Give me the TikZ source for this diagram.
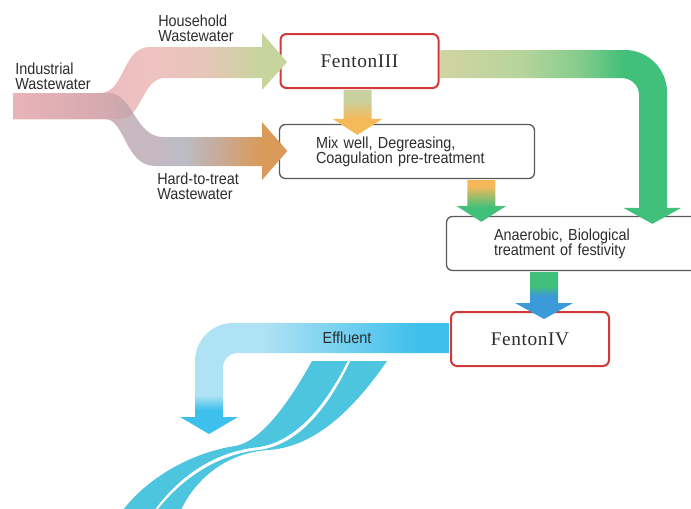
\documentclass[tikz,border=0pt]{standalone}
\usepackage{fontspec}
\setmainfont{Liberation Sans}[FakeStretch=0.9]
\newfontfamily\fentonfont{Liberation Serif}[LetterSpace=3]
\usetikzlibrary{calc}
\definecolor{fentonred}{RGB}{210,58,58}
\definecolor{boxgray}{RGB}{90,90,90}
\definecolor{labelgray}{RGB}{45,45,45}
\definecolor{flowgreen}{RGB}{64,192,122}
\definecolor{floworange}{RGB}{245,185,90}
\definecolor{flowblue}{RGB}{60,154,216}
\definecolor{flowolive}{RGB}{200,208,160}
\definecolor{effluentblue}{RGB}{62,192,236}
\definecolor{effluentpale}{RGB}{176,226,245}
\definecolor{riverblue}{RGB}{78,197,223}
% stream colours
\definecolor{inpink}{RGB}{230,178,182}
\definecolor{hhpink}{RGB}{239,194,194}
\definecolor{hhbeige}{RGB}{230,198,184}
\definecolor{hhgreen}{RGB}{200,212,158}
\definecolor{htpink}{RGB}{224,178,184}
\definecolor{htmauve}{RGB}{198,184,192}
\definecolor{htgray}{RGB}{188,188,198}
\definecolor{httan}{RGB}{198,172,156}
\definecolor{htorange}{RGB}{217,154,90}
\definecolor{mixpink}{RGB}{232,180,184}
\definecolor{mixrose}{RGB}{214,170,176}
\definecolor{mixmauve}{RGB}{196,166,174}
\definecolor{turnolive}{RGB}{210,212,162}
\definecolor{turnsage}{RGB}{182,212,156}
\definecolor{turnmint}{RGB}{132,204,140}

% horizontal shadings: 25bp = left end of the path, 75bp = right end
\pgfdeclarehorizontalshading{householdflow}{100bp}{color(0bp)=(inpink); color(25bp)=(inpink); color(50bp)=(hhpink); color(60bp)=(hhbeige); color(70bp)=(hhgreen); color(100bp)=(hhgreen)}
\pgfdeclarehorizontalshading{hardflow}{100bp}{color(0bp)=(htpink); color(25bp)=(htpink); color(50bp)=(htmauve); color(56bp)=(htgray); color(62bp)=(httan); color(70bp)=(htorange); color(100bp)=(htorange)}
\pgfdeclarehorizontalshading{mixedflow}{100bp}{color(0bp)=(mixpink); color(25bp)=(mixpink); color(41bp)=(mixrose); color(48bp)=(mixmauve); color(100bp)=(mixmauve)}
\pgfdeclarehorizontalshading{greenturn}{100bp}{color(0bp)=(turnolive); color(25bp)=(turnolive); color(42bp)=(turnsage); color(54bp)=(turnmint); color(63bp)=(flowgreen); color(100bp)=(flowgreen)}
\pgfdeclarehorizontalshading{effluentflat}{100bp}{color(0bp)=(effluentpale); color(38bp)=(effluentpale); color(69bp)=(effluentblue); color(100bp)=(effluentblue)}
% vertical shadings: 25bp = bottom of the path, 75bp = top
\pgfdeclareverticalshading{effluentdrop}{100bp}{color(0bp)=(effluentblue); color(44bp)=(effluentblue); color(56bp)=(effluentpale); color(100bp)=(effluentpale)}
\pgfdeclareverticalshading{oliveorange}{100bp}{color(0bp)=(floworange); color(43bp)=(floworange); color(64bp)=(flowolive); color(100bp)=(flowolive)}
\pgfdeclareverticalshading{orangegreen}{100bp}{color(0bp)=(flowgreen); color(42bp)=(flowgreen); color(68bp)=(floworange); color(100bp)=(floworange)}
\pgfdeclareverticalshading{greenblue}{100bp}{color(0bp)=(flowblue); color(50bp)=(flowblue); color(60bp)=(flowgreen); color(100bp)=(flowgreen)}

% fat downward arrow: shading, node anchor it leaves, tip coordinate, half width of head
\newcommand\fatdown[4]{\shade[shading=#1] ($(#3 |- #2)+(-14,1)$) -- ($(#3)+(-14,-16)$) -- ($(#3)+(-#4,-16)$) -- (#3) -- ($(#3)+(#4,-16)$) -- ($(#3)+(14,-16)$) -- ($(#3 |- #2)+(14,1)$) -- cycle;}

\tikzset{
  fentonbox/.style={draw=fentonred, line width=1.5pt, rounded corners=4.5pt, fill=white, minimum width=118.5pt, minimum height=40.5pt, text=labelgray, font=\fontsize{14.5}{16}\selectfont\fentonfont},
  stagebox/.style={draw=boxgray, line width=1pt, rounded corners=4.5pt, fill=white, minimum height=40.5pt, align=left, text=labelgray, font=\fontsize{12}{11.3}\selectfont},
  flowlabel/.style={align=left, inner sep=0pt, anchor=north west, text=labelgray, font=\fontsize{12}{11.3}\selectfont}
}

\begin{document}
\begin{tikzpicture}[x=0.75pt, y=-0.75pt]
\useasboundingbox (0,0) rectangle (691,508);

% treatment boxes
\node[fentonbox] (f3) at (359.5,61) {FentonIII};
\node[stagebox, minimum width=191.25pt, text width=136.5pt] (mix) at (407,151.5) {Mix well, Degreasing,\\Coagulation pre-treatment};
\node[stagebox, minimum width=195pt, text width=123.75pt] (ana) at (576.5,243.5) {Anaerobic, Biological\\treatment of festivity};
\node[fentonbox] (f4) at (530,339) {FentonIV};

% incoming wastewater streams
\coordinate (hhtip) at ($(f3.west)+(7.5,1)$);
\coordinate (httip) at ($(mix.west)+(8.5,-0.5)$);
\def\householdpath{(13,93) -- (100,93) .. controls (125,93) and (122,47) .. (150,47) -- (262,47) -- (262,33) -- (hhtip) -- (262,90) -- (262,78) -- (165,78) .. controls (142,78) and (142,119) .. (120,119) -- (13,119) -- cycle}
\def\hardpath{(13,93) -- (108,93) .. controls (133,93) and (135,137) .. (163,137) -- (262,137) -- (262,122) -- (httip) -- (262,180) -- (262,166) -- (155,166) .. controls (125,166) and (125,119) .. (105,119) -- (13,119) -- cycle}
\shade[shading=householdflow] \householdpath;
\shade[shading=hardflow] \hardpath;
\begin{scope}
  \clip \householdpath;
  \shade[shading=mixedflow] \hardpath;
\end{scope}

% arrows between the stages
\coordinate (t1) at ($(mix.north)+(-49.5,11)$);
\coordinate (t2) at ($(ana.north west)+(35.5,6)$);
\coordinate (t3) at ($(f4.north)+(14,8)$);
\coordinate (t4) at ($(ana.north west)+(206.5,8)$);
\fatdown{oliveorange}{f3.south}{t1}{25}
\fatdown{orangegreen}{mix.south}{t2}{25}
\fatdown{greenblue}{ana.south}{t3}{29}
\shade[shading=greenturn] ($(f3.east)+(1,-11)$) -- (625,50) .. controls (648,50) and (667,69) .. (667,92) -- (667,208) -- ($(t4)+(29,-16)$) -- (t4) -- ($(t4)+(-29,-16)$) -- (639,208) -- (639,95) .. controls (639,85) and (631,78) .. (621,78) -- ($(f3.east)+(1,17)$) -- cycle;

% effluent
\coordinate (outfall) at (209,434);
\shade[shading=effluentflat] ($(f4.west)+(-1,-16)$) -- (233,323) .. controls (212,323) and (195,340) .. (195,361) -- (195,372) -- (223,372) -- (223,368) .. controls (223,360) and (229,353) .. (238,353) -- ($(f4.west)+(-1,14)$) -- cycle;
\shade[shading=effluentdrop] (195,371) -- (195,417) -- (180,417) -- (outfall) -- (238,417) -- (223,417) -- (223,371) -- cycle;

% river
\fill[riverblue] (312,361) .. controls (296,390) and (265,441) .. (235,446) .. controls (195,452) and (150,475) .. (123,510) -- (154.7,510) .. controls (178.7,476.7) and (213.7,452.7) .. (253.7,447.7) .. controls (298.7,443.7) and (328.7,398.7) .. (347.7,361) -- cycle;
\fill[riverblue] (350.3,361) .. controls (331.3,401.3) and (301.3,446.3) .. (256.3,450.3) .. controls (216.3,455.3) and (181.3,479.3) .. (157.3,510) -- (181,510) .. controls (195,480) and (225,453) .. (268,450) .. controls (320,447) and (360,400) .. (387,361) -- cycle;

% labels
\node[flowlabel] (household) at (158,15) {Household\\Wastewater};
\node[flowlabel] (industrial) at (15,63) {Industrial\\Wastewater};
\node[flowlabel] (hardtreat) at (157,173) {Hard-to-treat\\Wastewater};
\node[text=labelgray, font=\fontsize{12}{11.3}\selectfont, anchor=base] (effluent) at (347,343) {Effluent};
\end{tikzpicture}
\end{document}
